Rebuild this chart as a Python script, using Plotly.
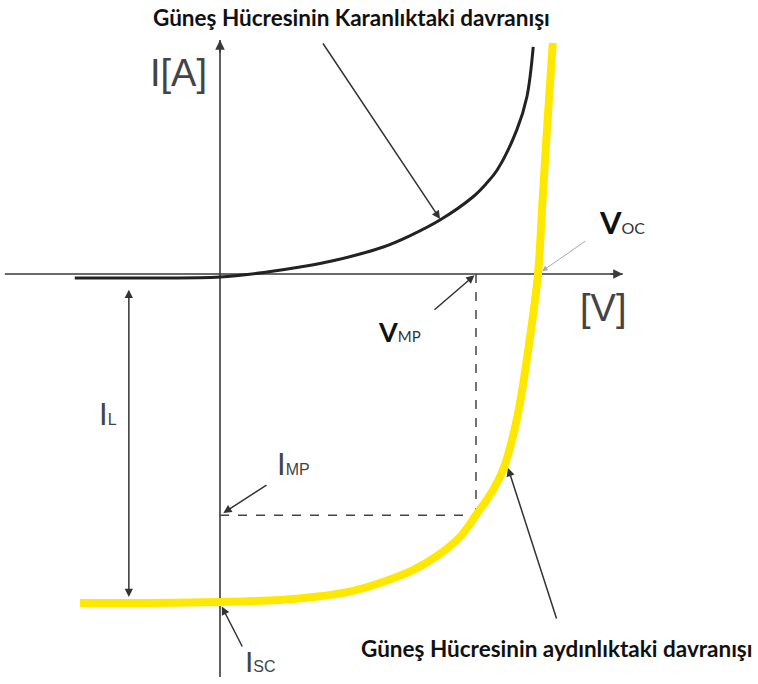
import plotly.graph_objects as go

# Dark (unilluminated) I-V characteristic of the cell, V in volts, I in amperes
V_DARK = [-0.274, -0.132, 0.0, 0.089, 0.151, 0.213, 0.308, 0.358, 0.415, 0.477, 0.502, 0.523,
          0.560, 0.579, 0.591]
I_DARK = [-0.012, -0.012, -0.009, 0.006, 0.021, 0.040, 0.082, 0.116, 0.164, 0.234, 0.274, 0.316,
          0.438, 0.538, 0.690]

# Illuminated I-V characteristic
V_LIGHT = [-0.264, -0.132, 0.0, 0.113, 0.176, 0.240, 0.302, 0.364, 0.415, 0.453, 0.483, 0.515,
           0.534, 0.551, 0.566, 0.585, 0.600, 0.609, 0.619, 0.628]
I_LIGHT = [-1.0, -1.0, -0.997, -0.991, -0.982, -0.967, -0.939, -0.900, -0.851, -0.799, -0.733,
           -0.657, -0.596, -0.505, -0.392, -0.192, 0.0, 0.234, 0.489, 0.702]

# Characteristic points
VOC = 0.600
ISC = 1.000
VMP = 0.483
IMP = 0.733
IL_X = -0.172          # position of the photocurrent marker

# Extent of the drawn axes
V_AXIS = [-0.406, 0.760]
I_AXIS = [-1.225, 0.711]

W, H = 758, 684
X_RANGE = [-0.4151, 1.0151]
Y_RANGE = [-1.2462, 0.8328]

AXIS_COL = "#3a3a3a"
LABEL_COL = "#444444"
SANS = "Liberation Sans"
HUM = "Lato"


def px(x):
    return x / W


def py(y):
    return 1 - y / H


fig = go.Figure()

fig.add_trace(go.Scatter(x=V_DARK, y=I_DARK, mode="lines", line=dict(color="#222222", width=3, shape="spline"),
                         hoverinfo="skip", showlegend=False))
fig.add_trace(go.Scatter(x=V_LIGHT, y=I_LIGHT, mode="lines", line=dict(color="#FFE800", width=8, shape="spline"),
                         hoverinfo="skip", showlegend=False))

shapes = [
    dict(type="line", x0=V_AXIS[0], x1=V_AXIS[1], y0=0, y1=0, layer="below",
         line=dict(color=AXIS_COL, width=1.6)),
    dict(type="line", x0=0, x1=0, y0=I_AXIS[0], y1=I_AXIS[1], layer="below",
         line=dict(color=AXIS_COL, width=1.6)),
    dict(type="line", x0=0, x1=VMP, y0=-IMP, y1=-IMP, layer="below",
         line=dict(color="#444444", width=1.5, dash="dash")),
    dict(type="line", x0=VMP, x1=VMP, y0=0, y1=-IMP, layer="below",
         line=dict(color="#444444", width=1.5, dash="dash")),
]

ann = []


def arrow(x, y, ax, ay, color="#333333", width=1.5, standoff=0, head=2, size=1.1):
    ann.append(dict(x=x, y=y, xref="x", yref="y", ax=ax, ay=ay, text="", showarrow=True,
                    arrowhead=head, arrowsize=size, arrowwidth=width, arrowcolor=color,
                    standoff=standoff))


# axis arrowheads
arrow(V_AXIS[1], 0, -14, 0, color=AXIS_COL, width=1.6, size=1.2)
arrow(0, I_AXIS[1], 0, 14, color=AXIS_COL, width=1.6, size=1.2)

# pointers to the curves and characteristic points
arrow(0.4151, 0.1672, -118, -177)
arrow(0.5434, -0.5897, 49, 152)
arrow(VMP, 0, -43, 37, standoff=2)
arrow(0, -IMP, 48, -31, standoff=4)
arrow(0, -ISC, 23, 45, standoff=4)
arrow(VOC, 0, 49, -34, color="#a8a8a8", width=1, standoff=5)

# photocurrent double arrow
ann.append(dict(x=IL_X, y=-0.982, ax=IL_X, ay=-0.043, xref="x", yref="y", axref="x", ayref="y",
                text="", showarrow=True, arrowhead=2, startarrowhead=2, arrowside="end+start",
                arrowsize=1.1, startarrowsize=1.1, arrowwidth=1.5, arrowcolor="#333333"))


def label(x, y, text, size, color, family, xanchor="center", bold=False):
    ann.append(dict(x=px(x), y=py(y), xref="paper", yref="paper", text=text, showarrow=False,
                    xanchor=xanchor, yanchor="middle",
                    font=dict(size=size, color=color, family=family, weight="bold" if bold else "normal")))


def small(t, size, color=LABEL_COL, family=SANS):
    return f"<span style='font-size:{size}px;color:{color};font-family:{family};font-weight:normal'>{t}</span>"


label(351, 17, "Güneş Hücresinin Karanlıktaki davranışı", 22.5, "#111111", HUM, bold=True)
label(557, 648, "Güneş Hücresinin aydınlıktaki davranışı", 22.5, "#111111", HUM, bold=True)

label(178, 73, "I[A]", 38, LABEL_COL, SANS)
label(603, 308, "[V]", 38, LABEL_COL, SANS)

label(597, 222, "V" + small("OC", 16, "#333333", HUM), 31, "#111111", HUM, xanchor="left", bold=True)
label(376, 331, "V" + small("MP", 15, "#333333", HUM), 27, "#111111", HUM, xanchor="left", bold=True)

label(97, 414, "I" + small("L", 16), 31, LABEL_COL, SANS, xanchor="left")
label(275, 464, "I" + small("MP", 16), 31, LABEL_COL, SANS, xanchor="left")
label(243, 661, "I" + small("SC", 16), 30, LABEL_COL, SANS, xanchor="left")

fig.update_layout(
    width=W, height=H,
    margin=dict(l=0, r=0, t=0, b=0),
    paper_bgcolor="white", plot_bgcolor="white",
    xaxis=dict(range=X_RANGE, visible=False, fixedrange=True),
    yaxis=dict(range=Y_RANGE, visible=False, fixedrange=True),
    shapes=shapes,
    annotations=ann,
    showlegend=False,
)

fig.write_html("out.html")
